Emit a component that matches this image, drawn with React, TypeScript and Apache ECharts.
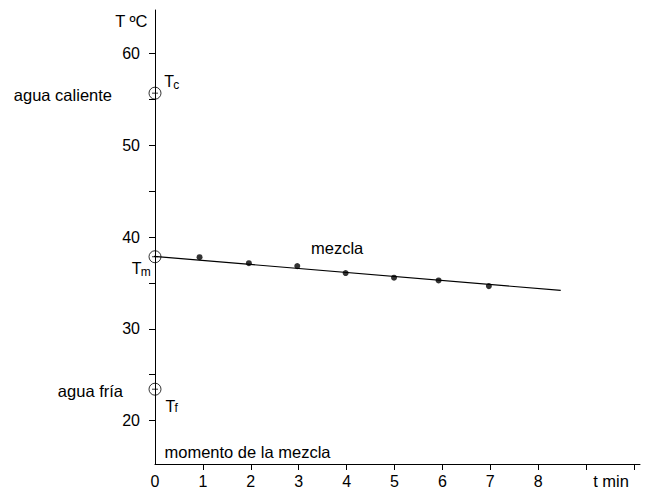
import React, { useEffect, useRef } from 'react';
import * as echarts from 'echarts';

// measured mixture temperatures
const minutes = [0.93, 1.96, 2.97, 3.98, 4.99, 5.92, 6.97];
const temps = [37.8, 37.15, 36.83, 36.07, 35.57, 35.27, 34.65];
// fitted straight line (two end points)
const fitMinutes = [-0.43, 8.47];
const fitTemps = [38.07, 34.18];
// special temperatures at t = 0
const markerSubs = ['c', 'm', 'f'];
const markerTemps = [55.67, 37.85, 23.42];
// axes
const yTickValues = [20, 25, 30, 35, 40, 45, 50, 55, 60];
const yLabelValues = [20, 30, 40, 50, 60];
const xTickValues = [1, 2, 3, 4, 5, 6, 7, 8, 9, 10];
const xLabelValues = [0, 1, 2, 3, 4, 5, 6, 7, 8];

const FONT = '"Liberation Sans", Arial, sans-serif';
// label offsets (px from the marker centre) for "T" and its subscript
const tOffset: Record<string, number[]> = {
  c: [9.2, -11.8],
  m: [-23.2, 12.2],
  f: [10.5, 17.5],
};
const subOffset: Record<string, number[]> = {
  c: [18.2, -8.5],
  m: [-14.2, 15.5],
  f: [19.5, 19.3],
};

export default function App() {
  const ref = useRef<HTMLDivElement>(null);
  useEffect(() => {
    if (!ref.current) return;
    const chart = echarts.init(ref.current, undefined, { renderer: 'svg' });
    const circlePath =
      'path://M0,-6A6,6,0,1,1,0,6A6,6,0,1,1,0,-6ZM-3,0L3,0';
    const txt = (text: string, x: number, y: number, align: string, size = 16.5) => ({
      type: 'text',
      x,
      y,
      silent: true,
      style: {
        text,
        font: `${size}px ${FONT}`,
        fill: '#000',
        textAlign: align,
        textVerticalAlign: 'middle',
      },
    });
    const baseGraphic = [
      txt('T ºC', 147.5, 20.5, 'right'),
      txt('agua caliente', 112, 95, 'right'),
      txt('agua fría', 123, 391, 'right'),
      txt('mezcla', 311, 248, 'left'),
      txt('momento de la mezcla', 164.5, 451.5, 'left'),
      txt('t min', 611, 481, 'center'),
    ];
    chart.setOption({
      animation: false,
      backgroundColor: '#fff',
      color: ['#000'],
      textStyle: { fontFamily: FONT, color: '#000' },
      grid: { left: 155, right: 31, top: 10, bottom: 24, containLabel: false },
      xAxis: {
        type: 'value',
        min: 0,
        max: 10.125,
        axisLine: { show: true, lineStyle: { color: '#000', width: 1 } },
        axisTick: { show: true, length: 6, customValues: xTickValues, lineStyle: { color: '#000' } },
        axisLabel: {
          customValues: xLabelValues,
          color: '#000',
          fontSize: 16,
          fontFamily: FONT,
          margin: 9,
        },
        splitLine: { show: false },
      },
      yAxis: {
        type: 'value',
        min: 15.27,
        max: 64.73,
        axisLine: { show: true, lineStyle: { color: '#000', width: 1 } },
        axisTick: { show: true, length: 6, customValues: yTickValues, lineStyle: { color: '#000' } },
        axisLabel: {
          customValues: yLabelValues,
          color: '#000',
          fontSize: 16,
          fontFamily: FONT,
          margin: 15,
        },
        splitLine: { show: false },
      },
      graphic: baseGraphic,
      series: [
        {
          type: 'line',
          data: fitMinutes.map((t, i) => [t, fitTemps[i]]),
          clip: false,
          symbol: 'none',
          lineStyle: { color: '#000', width: 1.2 },
          silent: true,
          z: 2,
        },
        {
          type: 'scatter',
          data: minutes.map((t, i) => [t, temps[i]]),
          symbol: 'circle',
          symbolSize: 6,
          itemStyle: { color: '#000' },
          silent: true,
          z: 3,
        },
        {
          type: 'scatter',
          clip: false,
          silent: true,
          data: markerTemps.map((v) => [0, v]),
          symbol: circlePath,
          symbolSize: 12,
          itemStyle: { color: 'rgba(255,255,255,0)', borderColor: '#000', borderWidth: 1 },
          emphasis: { disabled: true },
          z: 4,
        },
      ],
    });
    const markerTexts: any[] = [];
    markerTemps.forEach((v, i) => {
      const p = chart.convertToPixel({ xAxisIndex: 0, yAxisIndex: 0 }, [0, v]) as number[];
      const s = markerSubs[i];
      markerTexts.push(txt('T', p[0] + tOffset[s][0], p[1] + tOffset[s][1], 'left', 16));
      markerTexts.push(txt(s, p[0] + subOffset[s][0], p[1] + subOffset[s][1], 'left', 12));
    });
    chart.setOption({ graphic: [...baseGraphic, ...markerTexts] });
    return () => chart.dispose();
  }, []);
  return (
    <div
      ref={ref}
      style={{ position: 'absolute', left: 0, top: 0, width: 671, height: 489 }}
    />
  );
}
